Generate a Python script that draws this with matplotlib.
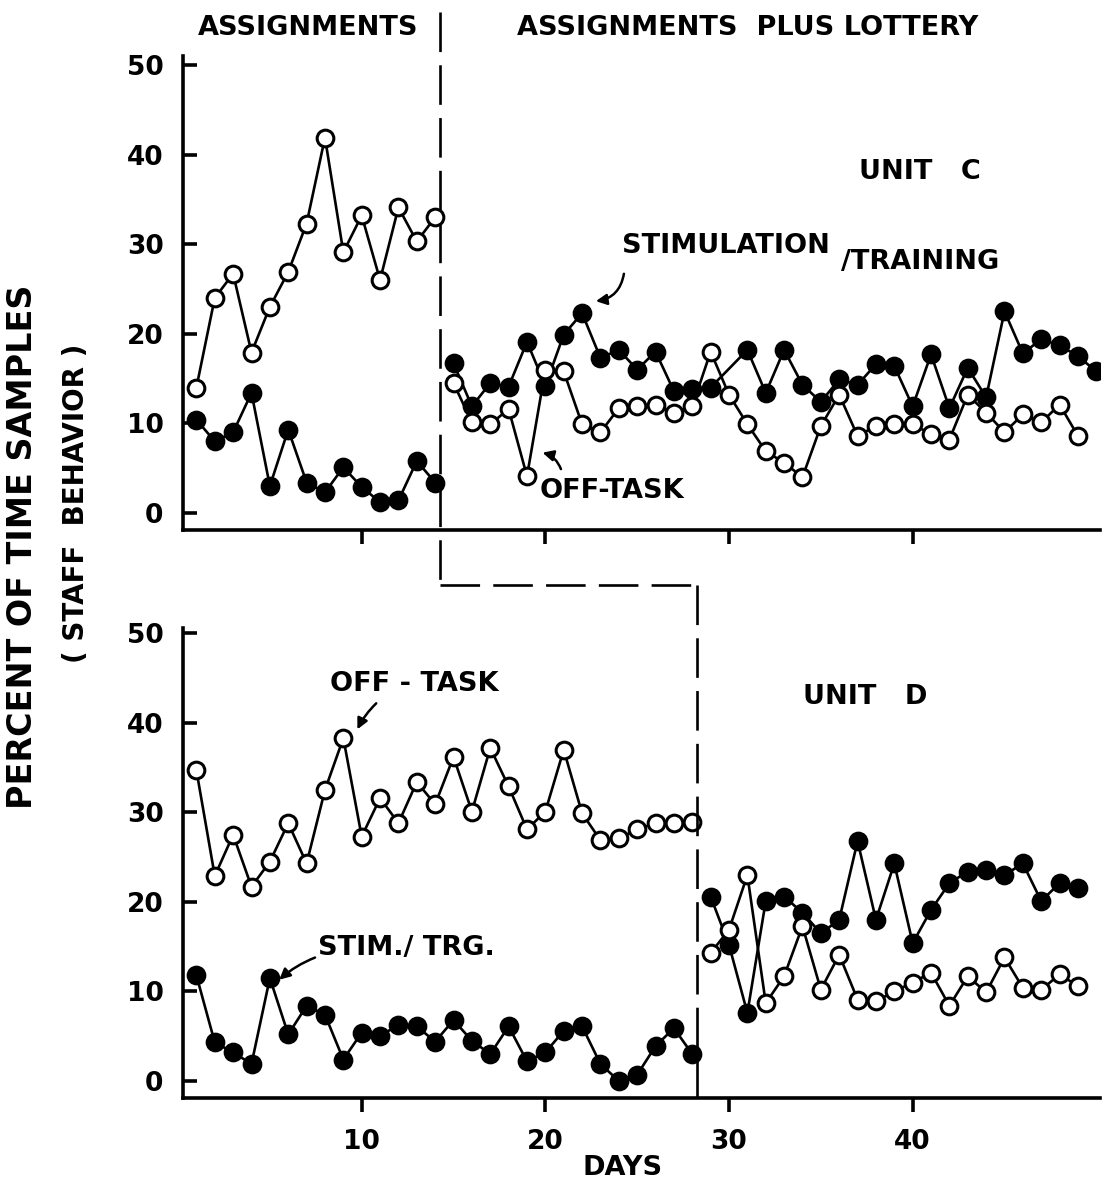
import numpy as np
import matplotlib
matplotlib.use("Agg")
import matplotlib.pyplot as plt
from matplotlib.lines import Line2D

# ---------------- data ----------------
# Unit C (top panel)
c_off_days_a = list(range(1, 15))
c_off_vals_a = [14.0, 24.0, 26.7, 17.9, 23.0, 26.9, 32.3, 41.9, 29.1, 33.2, 26.0, 34.1, 30.3, 33.0]
c_off_days_b = list(range(15, 50))
c_off_vals_b = [14.5, 10.1, 9.9, 11.6, 4.1, 16.0, 15.8, 9.9, 9.0, 11.7, 11.9, 12.0, 11.2, 11.9,
                18.0, 13.2, 9.9, 6.9, 5.6, 4.0, 9.7, 13.2, 8.6, 9.7, 9.9, 9.9, 8.8, 8.2, 13.2,
                11.2, 9.0, 11.0, 10.1, 12.1, 8.6]
c_stim_days_a = list(range(1, 15))
c_stim_vals_a = [10.4, 8.0, 9.0, 13.4, 3.0, 9.3, 3.4, 2.3, 5.1, 2.9, 1.2, 1.4, 5.8, 3.4]
c_stim_days_b = list(range(15, 30)) + list(range(31, 51))
c_stim_vals_b = [16.7, 11.9, 14.5, 14.1, 19.1, 14.2, 19.9, 22.3, 17.3, 18.2, 16.0, 18.0, 13.6, 13.8, 14.0,
                 18.2, 13.4, 18.2, 14.3, 12.4, 14.9, 14.3, 16.6, 16.4, 11.9, 17.7, 11.7, 16.2, 12.9,
                 22.5, 17.8, 19.4, 18.7, 17.5, 15.8]

# Unit D (bottom panel)
d_off_days_a = list(range(1, 29))
d_off_vals_a = [34.7, 22.9, 27.5, 21.7, 24.5, 28.8, 24.3, 32.5, 38.3, 27.3, 31.6, 28.8, 33.4, 30.9,
                36.2, 30.1, 37.2, 32.9, 28.1, 30.1, 37.0, 29.9, 26.9, 27.1, 28.1, 28.8, 28.8, 28.9]
d_off_days_b = list(range(29, 50))
d_off_vals_b = [14.3, 16.9, 23.0, 8.7, 11.7, 17.3, 10.2, 14.1, 9.1, 8.9, 10.0, 11.0, 12.1, 8.4,
                11.7, 9.9, 13.8, 10.4, 10.2, 11.9, 10.6]
d_stim_days_a = list(range(1, 29))
d_stim_vals_a = [11.8, 4.3, 3.2, 1.9, 11.5, 5.2, 8.4, 7.4, 2.4, 5.4, 5.0, 6.3, 6.1, 4.4,
                 6.8, 4.5, 3.0, 6.1, 2.2, 3.2, 5.6, 6.1, 1.9, 0.0, 0.7, 3.9, 5.9, 3.0]
d_stim_days_b = list(range(29, 50))
d_stim_vals_b = [20.6, 15.2, 7.6, 20.1, 20.6, 18.8, 16.5, 18.0, 26.8, 18.0, 24.3, 15.4, 19.1, 22.1,
                 23.4, 23.6, 23.0, 24.3, 20.1, 22.1, 21.6]

phase_c = 14.25   # phase change day, unit C
phase_d = 28.25   # phase change day, unit D
yticks = [0, 10, 20, 30, 40, 50]
xticks = [10, 20, 30, 40]

# ---------------- figure ----------------
plt.rcParams['font.family'] = ['DejaVu Sans']
plt.rcParams['font.weight'] = 'bold'
W, H = 1109, 1185
fig = plt.figure(figsize=(W / 100, H / 100), dpi=100)
fig.patch.set_facecolor('white')

def px2fig(x0, y0, x1, y1):
    return [x0 / W, 1 - y1 / H, (x1 - x0) / W, (y1 - y0) / H]

ax1 = fig.add_axes(px2fig(183, 56, 1100, 530))
ax2 = fig.add_axes(px2fig(183, 628, 1100, 1098))

LW = 1.9
MS = 12
MEW = 2.2
for ax in (ax1, ax2):
    for s in ('top', 'right'):
        ax.spines[s].set_visible(False)
    for s in ('left', 'bottom'):
        ax.spines[s].set_linewidth(2.6)
    ax.set_xlim(0.27, 50.2)
    ax.set_yticks(yticks)
    ax.set_xticks(xticks)
    ax.tick_params(axis='y', direction='in', length=10, width=2.6, labelsize=19, pad=14)
    ax.tick_params(axis='x', direction='out', length=10, width=2.6, labelsize=19, pad=12)
    for lab in ax.get_yticklabels() + ax.get_xticklabels():
        lab.set_fontweight('bold')

ax1.set_ylim(-1.9, 51)
ax2.set_ylim(-1.9, 50.6)
ax1.set_xticklabels([])

def series(ax, d, v, filled):
    if filled:
        ax.plot(d, v, '-o', color='black', lw=LW, ms=MS, mfc='black', mec='black', mew=MEW, zorder=3)
    else:
        ax.plot(d, v, '-o', color='black', lw=LW, ms=MS, mfc='white', mec='black', mew=MEW, zorder=4)

series(ax1, c_stim_days_a, c_stim_vals_a, True)
series(ax1, c_stim_days_b, c_stim_vals_b, True)
series(ax1, c_off_days_a, c_off_vals_a, False)
series(ax1, c_off_days_b, c_off_vals_b, False)
series(ax2, d_stim_days_a, d_stim_vals_a, True)
series(ax2, d_stim_days_b, d_stim_vals_b, True)
series(ax2, d_off_days_a, d_off_vals_a, False)
series(ax2, d_off_days_b, d_off_vals_b, False)

# ---------------- phase change lines ----------------
inv = fig.transFigure.inverted()
def fig_pt(ax, x, y):
    return inv.transform(ax.transData.transform((x, y)))

xc = fig_pt(ax1, phase_c, 0)[0]
xd = fig_pt(ax2, phase_d, 0)[0]
y_top = 1 - 12 / H
y_mid = 1 - 585 / H
y_bot = fig_pt(ax2, phase_d, -1.9)[1]
dash = dict(color='black', lw=1.9, linestyle=(0, (15, 5)), transform=fig.transFigure)
fig.add_artist(Line2D([xc, xc], [y_top, y_mid], **dash))
fig.add_artist(Line2D([xc, xd], [y_mid, y_mid], **dash))
fig.add_artist(Line2D([xd, xd], [y_mid, y_bot], **dash))

# ---------------- text ----------------
TS = 19.5
fig.text(308 / W, 1 - 28 / H, 'ASSIGNMENTS', ha='center', va='center', fontsize=TS, fontweight='bold')
fig.text(748 / W, 1 - 28 / H, 'ASSIGNMENTS  PLUS LOTTERY', ha='center', va='center', fontsize=TS, fontweight='bold')
fig.text(623 / W, 1 - 1168 / H, 'DAYS', ha='center', va='center', fontsize=TS, fontweight='bold')
fig.text(23 / W, 1 - 547 / H, 'PERCENT OF TIME SAMPLES', rotation=90, ha='center', va='center',
         fontsize=24, fontweight='bold')
fig.text(76 / W, 1 - 503 / H, '( STAFF  BEHAVIOR )', rotation=90, ha='center', va='center',
         fontsize=20, fontweight='bold')

ax1.text(40.4, 38.0, 'UNIT   C', ha='center', va='center', fontsize=TS, fontweight='bold')
ax1.text(24.15, 29.8, 'STIMULATION', ha='left', va='center', fontsize=TS, fontweight='bold')
ax1.text(36.1, 28.0, '/TRAINING', ha='left', va='center', fontsize=TS, fontweight='bold')
ax1.text(19.7, 2.4, 'OFF-TASK', ha='left', va='center', fontsize=TS, fontweight='bold')

ax2.text(8.26, 44.4, 'OFF - TASK', ha='left', va='center', fontsize=TS, fontweight='bold')
ax2.text(37.4, 42.9, 'UNIT   D', ha='center', va='center', fontsize=TS, fontweight='bold')
ax2.text(7.6, 14.9, 'STIM./ TRG.', ha='left', va='center', fontsize=TS, fontweight='bold')

arrow = dict(arrowstyle='-|>', color='black', lw=1.8, mutation_scale=16)
ax1.annotate('', xy=(22.6, 23.6), xytext=(24.3, 27.0),
             arrowprops=dict(connectionstyle='arc3,rad=-0.4', **arrow))
ax1.annotate('', xy=(19.7, 6.8), xytext=(20.9, 4.6),
             arrowprops=dict(connectionstyle='arc3,rad=0.3', **arrow))
ax2.annotate('', xy=(9.7, 39.0), xytext=(10.9, 42.4),
             arrowprops=dict(connectionstyle='arc3,rad=0.1', **arrow))
ax2.annotate('', xy=(5.4, 11.1), xytext=(7.6, 13.9),
             arrowprops=dict(connectionstyle='arc3,rad=0.1', **arrow))

fig.savefig('out.png', dpi=100, facecolor='white')
